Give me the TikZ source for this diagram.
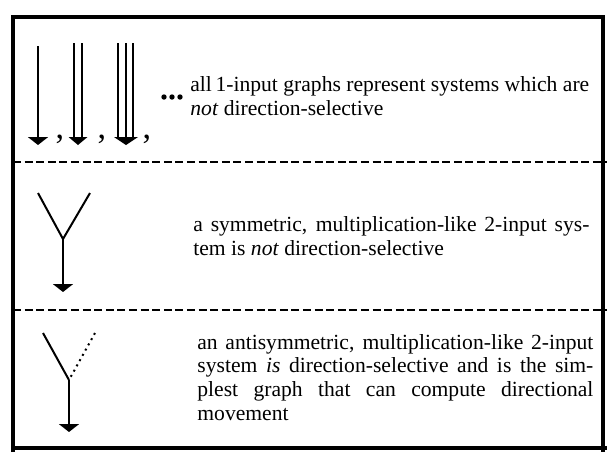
\documentclass[tikz,border=0pt]{standalone}
\usepackage{fontspec}
\setmainfont{Liberation Serif}
\usetikzlibrary{arrows.meta}
\tikzset{
  txt/.style={anchor=base west, inner sep=0pt, align=left,
    font=\fontsize{10.8}{11.8}\selectfont},
  sep/.style={line width=1.2pt, dash pattern=on 4pt off 1.8pt},
  wire/.style={line width=1pt},
  tip/.style={-{Triangle[width=10pt,length=4pt]}},
}
\newcommand{\jline}[1]{\makebox[198pt][s]{#1}}
\begin{document}
\begin{tikzpicture}[x=0.5pt, y=-0.5pt]
  \useasboundingbox (0,0) rectangle (607,452);
  % frame and the two dashed separators
  \draw[line width=2.2pt] (13,452) -- (13,17) -- (603,17) -- (603,452);
  \draw[line width=1.6pt] (13,448) -- (607,448);
  \draw[sep] (13,162) -- (607,162);
  \draw[sep] (13,310) -- (607,310);
  % 1-input graphs: one, two and three parallel lines
  \draw[wire, tip] (38,46) -- (38,145);
  \foreach \x in {74, 82} \draw[wire] (\x,43) -- (\x,139);
  \foreach \x in {118, 126, 133} \draw[wire] (\x,43) -- (\x,139);
  \foreach \x/\w in {78/9.5, 126/12} \fill (\x-\w,137) -- (\x+\w,137) -- (\x,145) -- cycle;
  \foreach \x [count=\i] in {60, 102, 147}
    \node[inner sep=0pt, anchor=base, font=\fontsize{17}{17}\selectfont] (c\i) at (\x,138) {,};
  \foreach \x in {164, 172, 180} \fill (\x,97) circle[radius=1.35pt];
  \node[txt] (t1) at (190,115) {all\,1-input graphs represent systems which are\\
    \textit{not} direction-selective};
  % symmetric 2-input graph
  \coordinate (al) at (38,193);
  \coordinate (ar) at (90,193);
  \coordinate (aj) at (63,239);
  \coordinate (ao) at (63,292);
  \draw[wire] (al) -- (aj) -- (ar);
  \draw[wire, tip] (aj) -- (ao);
  \node[txt] (t2) at (193,255) {\jline{a symmetric, multiplication-like 2-input sys-}\\
    tem is \textit{not} direction-selective};
  % antisymmetric 2-input graph
  \coordinate (bl) at (43,333);
  \coordinate (br) at (95,333);
  \coordinate (bj) at (69,380);
  \coordinate (bo) at (69,432);
  \draw[wire] (bl) -- (bj);
  \draw[wire, dotted] (br) -- (bj);
  \draw[wire, tip] (bj) -- (bo);
  \node[txt] (t3) at (197,420) {\jline{an antisymmetric, multiplication-like 2-input}\\
    \jline{system \textit{is} direction-selective and is the sim-}\\
    \jline{plest graph that can compute directional}\\
    movement};
\end{tikzpicture}
\end{document}
